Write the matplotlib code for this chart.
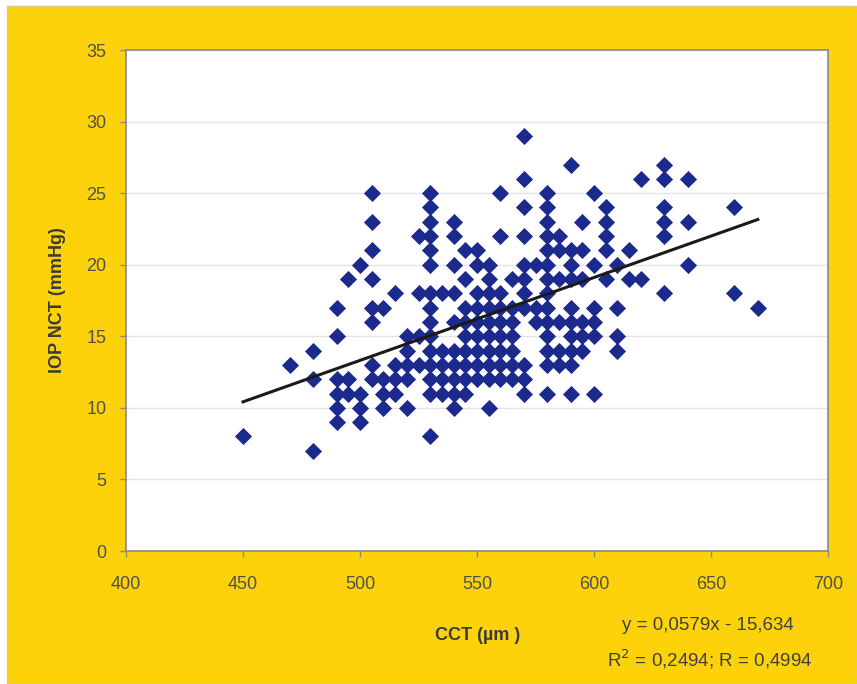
import matplotlib
matplotlib.use("Agg")
import matplotlib.pyplot as plt
from matplotlib.patches import Rectangle
import numpy as np

# CCT (um) column -> IOP NCT (mmHg) values
cct_cols = [450, 470, 480, 490, 495, 500, 505, 510, 515, 520, 525, 530, 535,
            540, 545, 550, 555, 560, 565, 570, 575, 580, 585, 590, 595, 600,
            605, 610, 615, 620, 630, 640, 660, 670]
iop_cols = [
    [8],
    [13],
    [14, 12, 7],
    [17, 15, 12, 11, 10, 9],
    [19, 12, 11],
    [20, 11, 10, 9],
    [25, 23, 21, 19, 17, 16, 13, 12],
    [17, 12, 11, 10],
    [18, 13, 12, 11],
    [15, 14, 13, 12, 10],
    [22, 18, 15, 13],
    [25, 24, 23, 22, 21, 20, 18, 17, 16, 15, 14, 13, 12, 11, 8],
    [18, 14, 13, 12, 11],
    [23, 22, 20, 18, 16, 14, 13, 12, 11, 10],
    [21, 19, 17, 16, 15, 14, 13, 12, 11],
    [21, 20, 18, 17, 16, 15, 14, 13, 12],
    [20, 19, 18, 17, 16, 15, 14, 13, 12, 10],
    [25, 22, 18, 17, 16, 15, 14, 13, 12],
    [19, 17, 16, 15, 14, 13, 12],
    [29, 26, 24, 22, 20, 19, 18, 17, 13, 12, 11],
    [20, 17, 16],
    [25, 24, 23, 22, 21, 20, 19, 18, 17, 16, 15, 14, 13, 11],
    [22, 21, 19, 16, 14, 13],
    [27, 21, 20, 19, 17, 16, 15, 14, 13, 11],
    [23, 21, 19, 16, 15, 14],
    [25, 20, 17, 16, 15, 11],
    [24, 23, 22, 21, 19],
    [20, 17, 15, 14],
    [21, 19],
    [26, 19],
    [27, 26, 24, 23, 22, 18],
    [26, 23, 20],
    [24, 18],
    [17],
]

slope = 0.0579
intercept = -15.634
eq_text = "y = 0,0579x - 15,634"
r_text = "R$^{2}$ = 0,2494; R = 0,4994"

x_ticks = [400, 450, 500, 550, 600, 650, 700]
y_ticks = [0, 5, 10, 15, 20, 25, 30, 35]

cct = np.concatenate([[c] * len(v) for c, v in zip(cct_cols, iop_cols)])
iop = np.concatenate(iop_cols)

plt.rcParams['font.family'] = ['Liberation Sans', 'DejaVu Sans']

W, H = 857, 684
fig = plt.figure(figsize=(W / 100, H / 100), dpi=100)
fig.patch.set_facecolor('white')
yellow = '#FDD20B'
fig.patches.append(Rectangle((7 / W, 0), 1 - 7 / W, 1 - 6 / H,
                             transform=fig.transFigure, facecolor=yellow,
                             edgecolor='#D8C98A', linewidth=1, zorder=-1))

ax = fig.add_axes([126 / W, 1 - 551 / H, (828 - 126) / W, (551 - 50) / H])
ax.set_facecolor('white')
ax.set_xlim(400, 700)
ax.set_ylim(0, 35)
ax.set_xticks(x_ticks)
ax.set_yticks(y_ticks)
ax.grid(axis='y', color='#E4E4E4', linewidth=1)
ax.set_axisbelow(True)
for s in ax.spines.values():
    s.set_color('#8A8A8A')
    s.set_linewidth(1.2)
ax.tick_params(colors='#8A8A8A', labelcolor='#505050', labelsize=13,
               length=4, width=1)
ax.tick_params(axis='y', pad=10)
ax.tick_params(axis='x', pad=14)

ax.scatter(cct, iop, marker='D', s=76, color='#1B2A8C', linewidths=0,
           zorder=3)

xf = np.array([cct.min(), cct.max()])
ax.plot(xf, slope * xf + intercept, color='#1A1A1A', linewidth=2.2, zorder=4)

ax.set_ylabel('IOP NCT (mmHg)', fontsize=13, fontweight='bold',
              color='#3A3A3A')
ax.yaxis.set_label_coords(-0.085, 0.5)

fig.text(478 / W, 1 - 636 / H, 'CCT (µm )', fontsize=13, fontweight='bold',
         color='#3A3A3A', ha='center', va='center')
fig.text(708 / W, 1 - 626 / H, eq_text, fontsize=13.5, color='#404040',
         ha='center', va='center')
fig.text(710 / W, 1 - 659 / H, r_text, fontsize=13.5, color='#404040',
         ha='center', va='center')

fig.savefig('out.png', dpi=100, facecolor=fig.get_facecolor())
